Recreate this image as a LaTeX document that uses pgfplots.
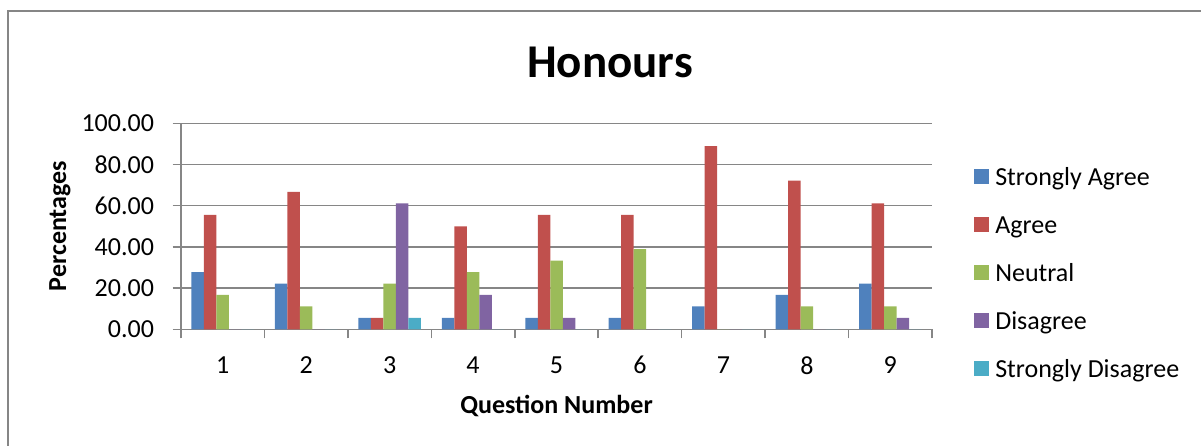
\documentclass[border=0pt]{standalone}
\usepackage{pgfplots}
\pgfplotsset{compat=1.18}
\usepackage{pgfplotstable}
\usepackage{fontspec}
\setmainfont{Carlito}
\definecolor{cSA}{HTML}{4F81BD}
\definecolor{cA}{HTML}{C0504D}
\definecolor{cN}{HTML}{9BBB59}
\definecolor{cD}{HTML}{8064A2}
\definecolor{cSD}{HTML}{4BACC6}
\definecolor{gridgray}{HTML}{868686}
\pgfplotstableread{
q sa a n d sd
1 27.78 55.56 16.67 0 0
2 22.22 66.67 11.11 0 0
3 5.56 5.56 22.22 61.11 5.56
4 5.56 50.00 27.78 16.67 0
5 5.56 55.56 33.33 5.56 0
6 5.56 55.56 38.89 0 0
7 11.11 88.89 0 0 0
8 16.67 72.22 11.11 0 0
9 22.22 61.11 11.11 5.56 0
}\datatable
\begin{document}
\begin{tikzpicture}
\path[use as bounding box] (0pt,0pt) rectangle (1201pt,445pt);
\draw[gridgray, line width=1.5pt] (8pt,-20pt) -- (8pt,434pt) -- (1220pt,434pt);
\begin{axis}[
  at={(181pt,115.7pt)}, anchor=south west,
  scale only axis, width=751pt, height=206pt,
  ybar=0pt, bar width=12.5pt,
  xmin=0.5, xmax=9.5, ymin=0, ymax=100,
  xtick={1,...,9},
  minor xtick={0.5,1.5,...,9.5},
  major x tick style={draw=none},
  minor x tick style={gridgray, line width=1.5pt},
  ytick={0,20,...,100},
  y tick style={gridgray, line width=1.5pt},
  tick align=outside,
  major tick length=8.5pt, minor tick length=9pt,
  axis x line*=bottom, axis y line*=left,
  axis line style={gridgray, line width=1.5pt, -},
  ymajorgrids,
  major grid style={gridgray, line width=1.5pt},
  ticklabel style={font=\fontsize{26}{31}\selectfont},
  yticklabel style={xshift=-15pt, /pgf/number format/.cd, fixed, fixed zerofill, precision=2, assume math mode=true},
  xticklabel style={yshift=-15pt, /pgf/number format/assume math mode=true},
  legend cell align=left,
  legend style={at={(1.056,0.242)}, anchor=west, draw=none, fill=none,
    inner sep=0pt, row sep=0pt, font=\fontsize{26}{31}\selectfont,
    nodes={inner xsep=2pt, inner ysep=0pt, text height=26pt, text depth=22pt}},
  legend image code/.code={\fill[#1] (0pt,-1pt) rectangle (15pt,14pt); \path (19pt,0pt);},
  clip=false,
]
\addplot[fill=cSA, draw=none] table[x=q, y=sa] {\datatable};
\addplot[fill=cA, draw=none] table[x=q, y=a] {\datatable};
\addplot[fill=cN, draw=none] table[x=q, y=n] {\datatable};
\addplot[fill=cD, draw=none] table[x=q, y=d] {\datatable};
\addplot[fill=cSD, draw=none] table[x=q, y=sd] {\datatable};
\legend{Strongly Agree, Agree, Neutral, Disagree, Strongly Disagree}
\end{axis}
\node[anchor=base, font=\fontsize{47}{56}\selectfont\bfseries] at (610pt,367pt) {Honours};
\node[anchor=base, font=\fontsize{26}{31}\selectfont\bfseries] at (556.5pt,32pt) {Question Number};
\node[anchor=base, rotate=90, font=\fontsize{26}{31}\selectfont\bfseries] at (66pt,219pt) {Percentages};
\end{tikzpicture}
\end{document}
